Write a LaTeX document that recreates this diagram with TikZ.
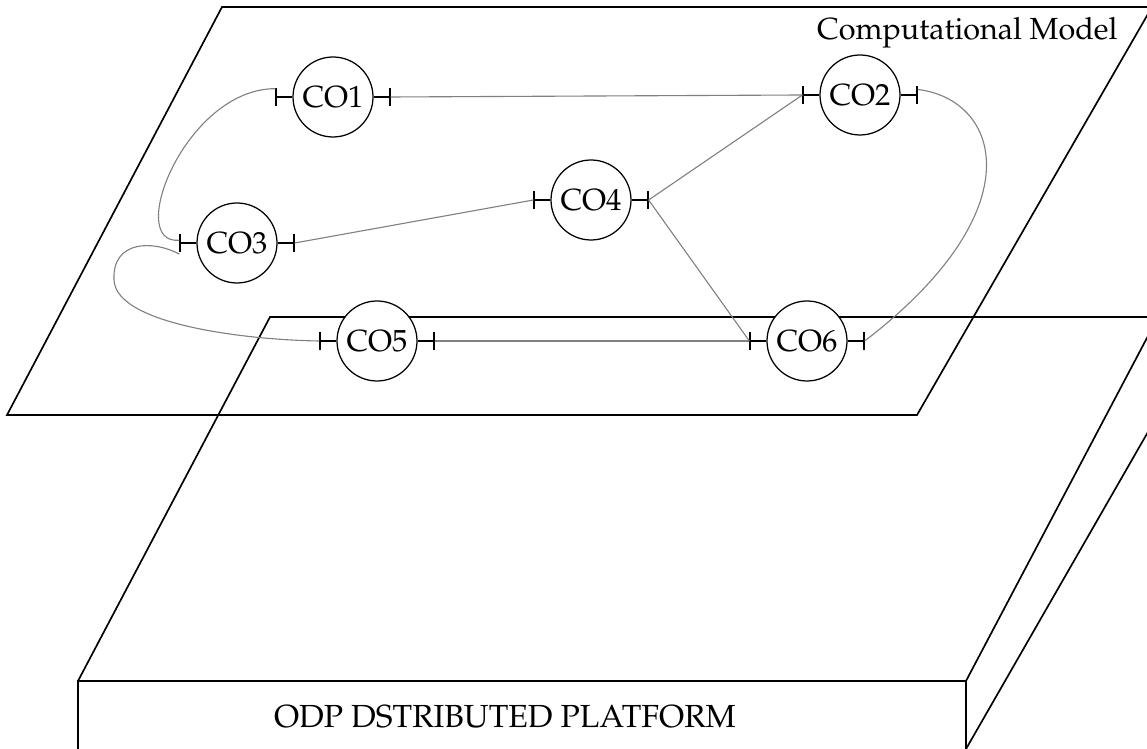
\documentclass[tikz,border=0pt]{standalone}
\usepackage[T1]{fontenc}
\usepackage{mathpazo}
\usetikzlibrary{arrows.meta}

\begin{document}
\begin{tikzpicture}[
    x=0.36pt, y=-0.36pt,
    every node/.style={font=\fontsize{11pt}{13pt}\selectfont},
    obj/.style={draw, circle, fill=white, line width=0.45pt, minimum size=28.8pt, inner sep=0pt},
    rim/.style={line width=0.6pt},
    stub/.style={line width=0.45pt, -{Bar[width=6.2pt, line width=0.45pt]}},
    conn/.style={draw=gray, line width=0.4pt}
]
    \useasboundingbox (0,0) rectangle (1147,749);
    \clip (0,0) rectangle (1147,749);

    % ===== ODP platform (box) =====
    \draw[rim] (78,681) -- (270,317) -- (1200,317);
    \draw[rim] (78,760) -- (78,681) -- (966,681) -- (966,760);
    \draw[rim] (966,681) -- (1158,317);
    \draw[rim] (966,749) -- (1160,411);
    \node[anchor=base, inner sep=0pt, font=\fontsize{11.5pt}{13pt}\selectfont] (plat) at (505,728) {ODP DSTRIBUTED PLATFORM};

    % ===== Computational model (plane) =====
    \draw[rim] (7,415) -- (222,7) -- (1152,7) -- (917,415) -- cycle;
    \node[anchor=base east, inner sep=0pt] (cm) at (1118,40) {Computational Model};

    % ===== objects =====
    \node[obj] (CO1) at (333,97)  {CO1};
    \node[obj] (CO2) at (860,95)  {CO2};
    \node[obj] (CO3) at (237,243) {CO3};
    \node[obj] (CO4) at (591,200) {CO4};
    \node[obj] (CO5) at (377,341) {CO5};
    \node[obj] (CO6) at (807,341) {CO6};
    \foreach \o in {CO1,CO2,CO3,CO4,CO5,CO6} {
        \draw[stub] (\o.west) -- ++(-17,0) coordinate (\o-w);
        \draw[stub] (\o.east) -- ++(17,0) coordinate (\o-e);
    }

    % ===== bindings =====
    \draw[conn] (CO1-e) -- (CO2-w);
    \draw[conn] (CO3-e) -- (CO4-w);
    \draw[conn] (CO4-e) -- (CO2-w);
    \draw[conn] (CO4-e) -- (CO6-w);
    \draw[conn] (CO5-e) -- (CO6-w);
    \draw[conn] ([yshift=3pt]CO1-w) .. controls +(-90,0) and +(-55,5) .. ([yshift=1pt]CO3-w);
    \draw[conn] ([yshift=-4pt]CO3-w) .. controls +(-26,-14) and +(-2,-40) .. (114,280)
        .. controls +(2,45) and +(-71,-1) .. (CO5-w);
    \draw[conn] ([yshift=2pt]CO2-e) .. controls +(83,10) and +(171,-131) .. (CO6-e);
\end{tikzpicture}
\end{document}
